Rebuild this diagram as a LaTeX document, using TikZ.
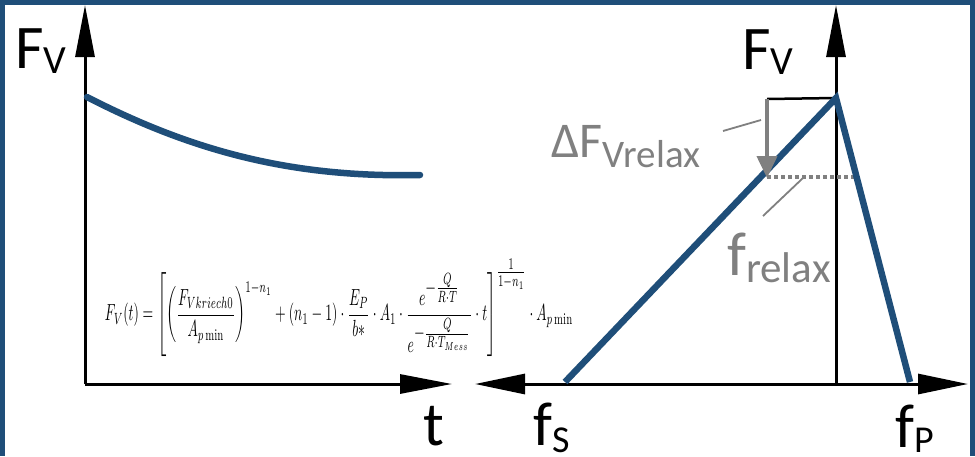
\documentclass[tikz,border=0pt]{standalone}
\usepackage{amsmath}
\usepackage{fontspec}
\newfontfamily\calib{Carlito}
\usetikzlibrary{arrows.meta}
\definecolor{dkblue}{RGB}{31,78,121}
\definecolor{lblgray}{RGB}{128,128,128}
% letter with a lowered subscript, sizes in pt
\newcommand{\sublbl}[5]{{\calib\fontsize{#1}{#1}\selectfont #2}{\calib\fontsize{#3}{#3}\selectfont\raisebox{-#4pt}{#5}}}

\begin{document}
\begin{tikzpicture}[
  x=1pt, y=-1pt,
  axis/.style={line width=3pt, -{Triangle[length=52pt, width=19pt]}},
  curve/.style={dkblue, line width=6.5pt, line cap=round},
  helper/.style={lblgray, line width=1.8pt},
  lbl/.style={inner sep=0pt, anchor=base west},
]
\useasboundingbox (0,0) rectangle (975,456);

% ---------- frame ----------
\fill[dkblue] (0,0) rectangle (975,456);
\fill[white] (5,5) rectangle (970,456);

% ---------- left plot: F_V over t ----------
\coordinate (o1) at (85,384);
\coordinate (y1) at (85,5);
\coordinate (x1) at (452,384);
\coordinate (c0) at (87,97);
\coordinate (c1) at (420,175);
\draw[axis] (o1) -- (y1);
\draw[axis] (o1) -- (x1);
\draw[curve] (c0) .. controls (190,150) and (290,178) .. (c1);
\node[lbl] (fv1) at (15,68) {\sublbl{62}{F}{40}{5}{V}};
\node[lbl, anchor=base] (tlbl) at (434,445) {\calib\fontsize{62}{62}\selectfont t};

\node[inner sep=0pt] (eq) at (339,308) {\resizebox*{468pt}{98pt}{$\displaystyle
  F_V(t)=\left[\left(\frac{F_{Vkriech0}}{A_{p\min}}\right)^{1-n_1}
  +(n_1-1)\cdot\frac{E_P}{b\mathord{*}}\cdot A_1\cdot
  \frac{e^{\textstyle-\frac{Q}{R\cdot T}}}{e^{\textstyle-\frac{Q}{R\cdot T_{Mess}}}}\cdot t
  \right]^{\textstyle\frac{1}{1-n_1}}\cdot A_{p\min}$}};

% ---------- right plot: F_V over f ----------
\coordinate (o2) at (836,384);
\coordinate (y2) at (836,5);
\coordinate (xs) at (475,384);
\coordinate (xp) at (968,384);
\draw[axis] (o2) -- (y2);
\draw[line width=3pt, {Triangle[length=50pt, width=20pt]}-{Triangle[length=50pt, width=20pt]}] (xs) -- (xp);

\coordinate (fs) at (565,382);
\coordinate (top) at (836,98);
\coordinate (fp) at (910,382);
\coordinate (dtop) at (767,99);
\coordinate (dbot) at (767,178);
\coordinate (rl) at (767,177);
\coordinate (rr) at (857,177);
\draw[line width=2.5pt] (dtop) -- (top);
\draw[lblgray, line width=4pt, dash pattern=on 4pt off 3pt] (rl) -- (rr);
\draw[dkblue, line width=6.5pt, line join=miter] (fs) -- (top) -- (fp);
\draw[lblgray, line width=4pt, -{Triangle[length=22pt, width=20pt]}] (dtop) -- (dbot);

% leader lines
\coordinate (la) at (723,131);
\coordinate (lb) at (761,120);
\coordinate (lc) at (763,216);
\coordinate (ld) at (803,178);
\draw[helper] (la) -- (lb);
\draw[helper] (lc) -- (ld);

\node[lbl] (fv2) at (742,69) {\sublbl{62}{F}{40}{5}{V}};
\node[lbl] (fslbl) at (533,445) {\sublbl{62}{f}{38}{7}{S}};
\node[lbl] (fplbl) at (895,447) {\sublbl{62}{f}{38}{5}{P}};
\node[lbl, text=lblgray] (dflbl) at (551,157) {\sublbl{50}{ΔF}{39}{10}{Vrelax}};
\node[lbl, text=lblgray] (frlbl) at (727,275) {\sublbl{62}{f}{43}{7}{relax}};

\end{tikzpicture}
\end{document}
